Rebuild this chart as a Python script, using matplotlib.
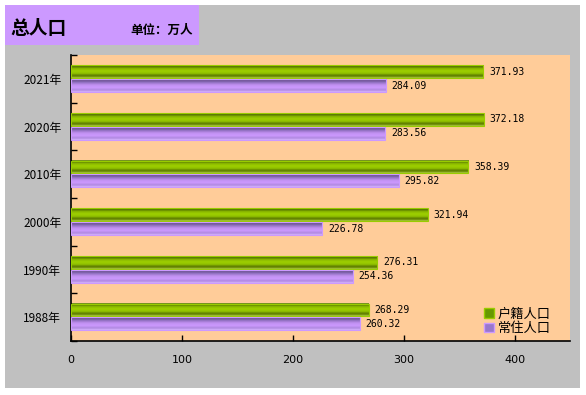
import matplotlib
matplotlib.use("Agg")
import matplotlib.pyplot as plt
import numpy as np
from matplotlib.colors import LinearSegmentedColormap
from matplotlib.patches import Rectangle, Patch

plt.rcParams['font.family'] = ['Noto Sans CJK SC', 'DejaVu Sans']

categories = ["1988年", "1990年", "2000年", "2010年", "2020年", "2021年"]
huji = [268.29, 276.31, 321.94, 358.39, 372.18, 371.93]
changzhu = [260.32, 254.36, 226.78, 295.82, 283.56, 284.09]
series_names = ["户籍人口", "常住人口"]
xticks = [0, 100, 200, 300, 400]

green_cmap = LinearSegmentedColormap.from_list("g", [
    (0.0, "#b5d44a"), (0.08, "#7a9a10"), (0.2, "#5c7a00"), (0.35, "#8fbf00"),
    (0.55, "#9fd000"), (0.75, "#88b400"), (0.9, "#4d6a00"), (1.0, "#8aa830")])
purple_cmap = LinearSegmentedColormap.from_list("p", [
    (0.0, "#d8b4ff"), (0.15, "#b089e0"), (0.35, "#cc99ff"), (0.55, "#c090f0"),
    (0.75, "#9070c0"), (0.9, "#6a5090"), (1.0, "#a088c8")])

fig = plt.figure(figsize=(5.86, 3.95), dpi=100)
fig.patch.set_facecolor("white")
fig.add_artist(Rectangle((5/586, 1-388/395), 575/586, 383/395, transform=fig.transFigure,
                         facecolor="#c0c0c0", edgecolor="none", zorder=0))
fig.add_artist(Rectangle((5/586, 1-45/395), 194/586, 40/395, transform=fig.transFigure,
                         facecolor="#cc99ff", edgecolor="none", zorder=1))
fig.text(10/586, 1-28/395, "总人口", fontsize=13.5, fontweight="bold", va="center", ha="left")
fig.text(130/586, 1-30/395, "单位：万人", fontsize=9, fontweight="bold", va="center", ha="left")

ax = fig.add_axes([71/586, 1-341/395, (570-71)/586, (341-55)/395])
ax.set_facecolor("#ffcc99")

h = 0.27
grad = np.linspace(0, 1, 64).reshape(-1, 1)
for i, (g, p) in enumerate(zip(huji, changzhu)):
    for val, off, cmap, ec in [(g, 0.15, green_cmap, "#99cc00"), (p, -0.14, purple_cmap, "#cc99ff")]:
        bars = ax.barh(i + off, val, height=h, color="none", edgecolor=ec, linewidth=0.8, zorder=3)
        r = bars[0]
        y0 = r.get_y(); y1 = y0 + r.get_height()
        ax.imshow(grad, cmap=cmap, aspect="auto", extent=[0, val, y1, y0], zorder=2,
                  interpolation="bilinear")
        ax.text(val + 5, i + off, f"{val:.2f}", va="center", ha="left",
                fontsize=7, family="DejaVu Sans Mono", zorder=4)
ax.set_xlim(0, 450)
ax.set_ylim(-0.5, len(categories)-0.5)

ax.set_yticks(np.arange(len(categories)))
ax.set_yticklabels(categories, fontsize=8.5)
ax.set_yticks(np.arange(len(categories)+1) - 0.5, minor=True)
ax.tick_params(axis="y", which="major", length=0, pad=7)
ax.tick_params(axis="y", which="minor", length=4, direction="in", width=1)
ax.set_xticks(xticks)
ax.set_xticklabels([str(t) for t in xticks], fontsize=8, family="DejaVu Sans")
ax.tick_params(axis="x", length=4, direction="in", width=1, pad=10)
for s in ["top", "right"]:
    ax.spines[s].set_visible(False)
for s in ["left", "bottom"]:
    ax.spines[s].set_linewidth(1.2)
    ax.spines[s].set_color("black")

handles = [Patch(facecolor="#669900", edgecolor="#99cc00"),
           Patch(facecolor="#9977cc", edgecolor="#cc99ff")]
ax.legend(handles, series_names, loc="lower right", bbox_to_anchor=(0.985, -0.02), frameon=False,
          fontsize=9.5, handlelength=0.7, handleheight=0.7, handletextpad=0.3, labelspacing=0.1)

fig.savefig("out.png", dpi=100, facecolor="white")
